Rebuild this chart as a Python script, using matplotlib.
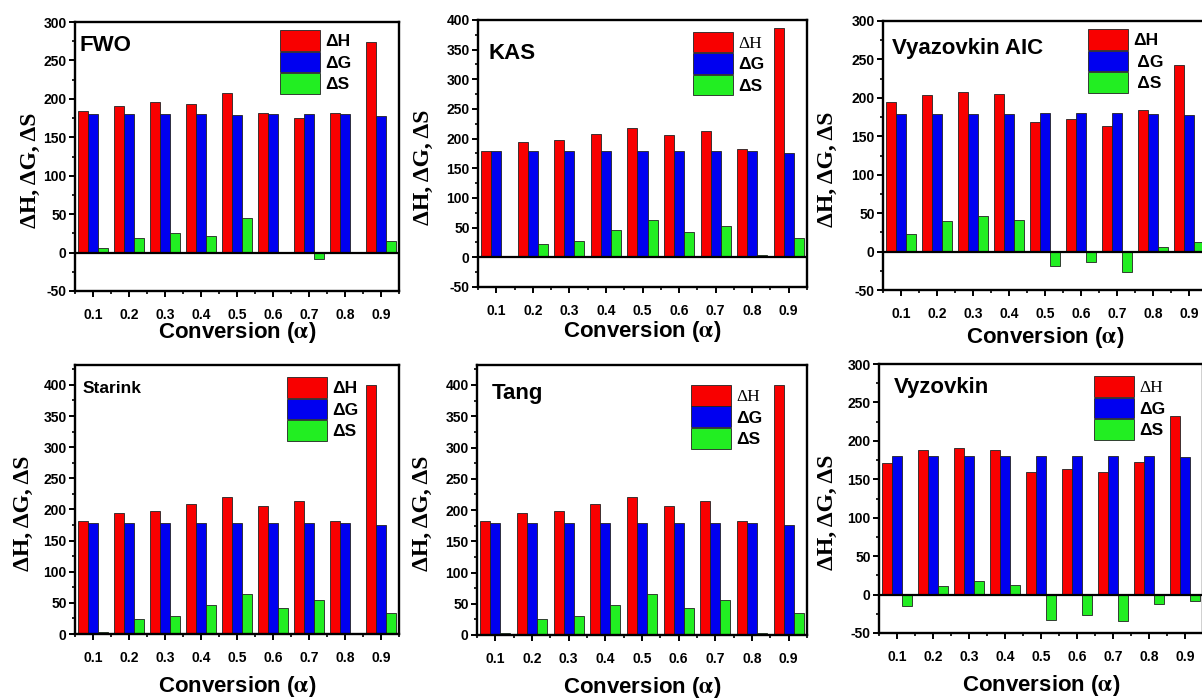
import matplotlib.pyplot as plt
from matplotlib.ticker import MultipleLocator

plt.rcParams['axes.unicode_minus'] = False
plt.rcParams['mathtext.fontset'] = 'stix'
plt.rcParams['font.family'] = ['Liberation Sans', 'DejaVu Sans']
plt.rcParams['font.weight'] = 'bold'

conversion = [0.1, 0.2, 0.3, 0.4, 0.5, 0.6, 0.7, 0.8, 0.9]

# FWO
fwo_dh = [184, 191, 196, 193, 207, 181, 175, 181, 274]
fwo_dg = [180, 180, 180, 180, 179, 180, 180, 180, 178]
fwo_ds = [5.5, 19, 26, 21.5, 45, 1, -8.5, 0.5, 14.5]

# KAS
kas_dh = [180, 194, 197, 208, 218, 206, 213, 183, 386]
kas_dg = [180, 180, 180, 179, 179, 179, 179, 180, 176]
kas_ds = [0.3, 22, 28, 46, 63, 42, 53, 4.5, 32]

# Vyazovkin AIC
aic_dh = [195, 204, 208, 205, 168, 173, 164, 184, 243]
aic_dg = [179, 179, 179, 179, 180, 180, 180, 179, 178]
aic_ds = [23.5, 39.5, 46, 41.5, -19, -13, -26.5, 6.5, 12]

# Starink
sta_dh = [182, 194, 198, 209, 220, 206, 213, 181, 400]
sta_dg = [179, 179, 179, 179, 179, 179, 179, 179, 175.5]
sta_ds = [3.5, 23.5, 29.5, 47, 65, 42.5, 54.5, 1, 33.5]

# Tang
tang_dh = [183, 195, 198.5, 210, 220.5, 207, 214, 183, 400]
tang_dg = [180, 180, 180, 180, 179, 179, 179, 180, 176.5]
tang_ds = [3.5, 25, 30.5, 48, 66, 44, 55.5, 2.5, 35]

# Vyzovkin
vyz_dh = [171, 188, 191, 188.5, 159.5, 164, 159.5, 173, 232.5]
vyz_dg = [180, 180, 180, 180, 180.5, 180.5, 180.5, 180, 178.5]
vyz_ds = [-14.5, 11.5, 18, 12.5, -33, -27, -34, -12, -9]

W, H = 1202, 700
fig = plt.figure(figsize=(W / 100, H / 100), dpi=100)


def px_axes(left, top, right, bottom):
    return fig.add_axes([left / W, 1 - bottom / H, (right - left) / W, (bottom - top) / H])


panels = [
    ('FWO', fwo_dh, fwo_dg, fwo_ds, (75, 22, 399, 291), (-50, 300), 16, (0.015, 0.914),
     (0.633, 0.97), False, ['ΔH', 'ΔG', 'ΔS'], -0.139, -0.156),
    ('KAS', kas_dh, kas_dg, kas_ds, (478, 20, 807, 287), (-50, 400), 16, (0.033, 0.873),
     (0.653, 0.956), True, ['ΔH', 'ΔG', 'ΔS'], -0.167, -0.168),
    ('Vyazovkin AIC', aic_dh, aic_dg, aic_ds, (883, 21, 1207, 290), (-50, 300), 16, (0.028, 0.896),
     (0.633, 0.969), False, ['ΔH', ' ΔG', ' ΔS'], -0.171, -0.178),
    ('Starink', sta_dh, sta_dg, sta_ds, (75, 365, 399, 634), (0, 432), 12.5, (0.022, 0.911),
     (0.655, 0.954), False, ['ΔH', 'ΔG', 'ΔS'], -0.16, -0.195),
    ('Tang', tang_dh, tang_dg, tang_ds, (477, 365, 807, 635), (0, 432), 16, (0.045, 0.896),
     (0.648, 0.926), True, ['ΔH', 'ΔG', 'ΔS'], -0.164, -0.195),
    ('Vyzovkin', vyz_dh, vyz_dg, vyz_ds, (879, 364, 1203, 633), (-50, 300), 16, (0.046, 0.914),
     (0.664, 0.955), True, ['ΔH', 'ΔG', 'ΔS'], -0.159, -0.195),
]

colors = ['#F80000', '#0000F0', '#22EE22']
width = 0.0275

for (name, dh, dg, ds, box, ylim, tsize, txy, lxy, serif_h, labels, ylx, xly) in panels:
    ax = px_axes(*box)
    bars = []
    for k, vals in enumerate([dh, dg, ds]):
        pos = [c + (k - 1) * width for c in conversion]
        bars.append(ax.bar(pos, vals, width, color=colors[k], edgecolor='#222222', linewidth=0.6))
    if ylim[0] < 0:
        ax.axhline(0, color='black', lw=1.6)
    ax.set_xlim(0.05, 0.95)
    ax.set_ylim(*ylim)
    ax.xaxis.set_minor_locator(MultipleLocator(0.05))
    ax.yaxis.set_major_locator(MultipleLocator(50))
    ax.yaxis.set_minor_locator(MultipleLocator(25))
    ax.set_xticks(conversion)
    ax.set_xticklabels([f'{c:.1f}' for c in conversion])
    ax.tick_params(axis='both', which='major', length=4, width=1.4, labelsize=10)
    ax.tick_params(axis='both', which='minor', length=2.5, width=1.2)
    ax.tick_params(axis='x', which='major', pad=8)
    ax.tick_params(axis='y', which='major', pad=2)
    for sp in ax.spines.values():
        sp.set_linewidth(1.7)
    for lab in ax.get_xticklabels() + ax.get_yticklabels():
        lab.set_fontweight('bold')

    ax.set_ylabel('ΔH, ΔG, ΔS', family='Liberation Serif', fontweight='bold', fontsize=17)
    ax.yaxis.set_label_coords(ylx, 0.45)
    ax.yaxis.label.set_va('center')
    ax.set_xlabel('Conversion ($\\mathrm{\\alpha}$)', fontweight='bold', fontsize=16)
    ax.xaxis.set_label_coords(0.5, xly)
    ax.xaxis.label.set_va('center')

    ax.text(txy[0], txy[1], name, transform=ax.transAxes, fontsize=tsize,
            fontweight='bold', va='center', ha='left')

    leg = ax.legend(bars, labels, loc='upper left', bbox_to_anchor=lxy, frameon=False,
                    fontsize=12.5, handlelength=2.3, handleheight=1.45, labelspacing=0.05,
                    handletextpad=0.3, borderpad=0, borderaxespad=0)
    for t in leg.get_texts():
        t.set_fontweight('bold')
    if serif_h:
        leg.get_texts()[0].set_family('Liberation Serif')
        leg.get_texts()[0].set_fontweight('normal')

fig.savefig('out.png', dpi=100)
